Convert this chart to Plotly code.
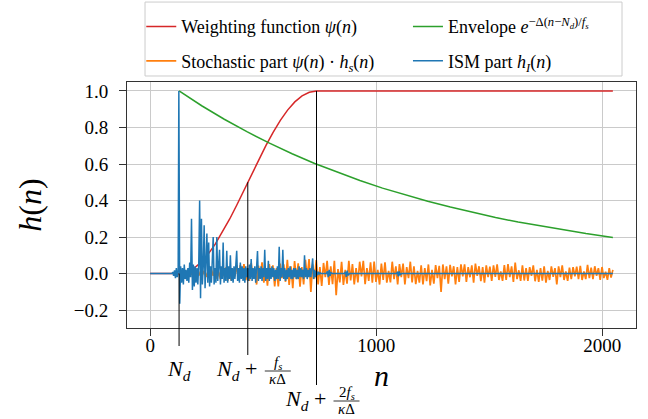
import numpy as np
import plotly.graph_objects as go

FONT = "Liberation Serif, Times New Roman, serif"

# weighting function psi(n)
psi_n = [0, 128, 160, 192, 224, 256, 288, 320, 352, 384, 416, 448, 480, 512,
         544, 576, 608, 640, 672, 704, 736, 2047]
psi_val = [0, 0, 0.007, 0.027, 0.06, 0.105, 0.161, 0.227, 0.299, 0.377, 0.459,
           0.541, 0.623, 0.701, 0.773, 0.839, 0.895, 0.94, 0.973, 0.993, 1.0, 1.0]

# envelope exp(-Delta (n - Nd) / fs)
env_n = [128, 228, 328, 428, 528, 628, 728, 828, 928, 1028, 1128, 1228, 1328,
         1428, 1528, 1628, 1728, 1828, 1928, 2047]
env_val = [1.0, 0.919, 0.845, 0.777, 0.714, 0.656, 0.603, 0.555, 0.51, 0.468,
           0.43, 0.396, 0.364, 0.334, 0.307, 0.282, 0.26, 0.239, 0.219, 0.198]

# stochastic part psi(n) * hs(n), one value every 8 samples from n = 127
stoch_n = list(range(127, 2048, 8))
stoch_val = [
    0, -0.001, 0.002, -0.004, 0.002, -0.005, 0.006, -0.004, 0.008, -0.01, 0.005, -0.012,
    0.012, -0.007, 0.015, -0.018, 0.008, -0.02, 0.022, -0.012, 0.025, -0.028, 0.01, -0.03,
    0.022, -0.015, 0.034, -0.04, 0.018, -0.038, 0.026, -0.015, 0.045, -0.03, 0.046, -0.022,
    0.052, -0.036, 0.02, -0.04, 0.058, -0.028, 0.025, -0.06, 0.044, -0.02, 0.062, -0.05,
    0.03, -0.066, 0.052, -0.015, 0.045, -0.07, 0.03, -0.07, 0.055, -0.025, 0.05, -0.045,
    0.075, -0.062, 0.04, -0.08, 0.068, -0.03, 0.056, -0.072, 0.035, -0.06, 0.075, -0.02,
    0.08, -0.1, 0.05, -0.028, 0.074, -0.06, 0.035, -0.068, 0.058, -0.02, 0.07, -0.062,
    0.04, -0.058, 0.07, -0.118, 0.025, -0.048, 0.065, -0.062, 0.02, -0.055, 0.07, -0.038,
    0.052, -0.06, 0.03, -0.048, 0.065, -0.015, 0.07, -0.058, 0.03, -0.04, 0.062, -0.05,
    0.066, -0.045, 0.02, -0.06, 0.055, -0.035, 0.062, -0.05, 0.015, -0.048, 0.065, -0.03,
    0.04, -0.06, 0.052, -0.02, 0.055, -0.06, 0.035, -0.025, 0.065, -0.048, 0.04, -0.058,
    0.015, -0.05, 0.045, -0.06, 0.03, -0.042, 0.05, -0.065, 0.02, -0.055, 0.046, -0.025,
    0.042, -0.1, 0.05, -0.03, 0.04, -0.055, 0.048, -0.015, 0.04, -0.06, 0.035, -0.045,
    0.05, -0.015, 0.05, -0.045, 0.035, -0.02, 0.045, -0.05, 0.055, -0.012, 0.04, -0.042,
    0.035, -0.05, 0.045, -0.02, 0.038, -0.04, 0.045, -0.018, 0.05, -0.035, 0.012, -0.04,
    0.046, -0.035, 0.052, -0.02, 0.04, -0.045, 0.06, -0.03, 0.018, -0.04, 0.045, -0.038,
    0.03, -0.04, 0.035, -0.012, 0.045, -0.042, 0.02, -0.045, 0.03, -0.038, 0.04, -0.05,
    0.015, -0.035, 0.04, -0.018, 0.03, -0.06, 0.04, -0.02, 0.045, -0.035, 0.012, -0.04,
    0.032, -0.03, 0.035, -0.015, 0.038, -0.03, 0.042, -0.035, 0.012, -0.03, 0.048, -0.025,
    0.032, -0.03, 0.04, -0.012, 0.03, -0.035, 0.036, -0.025, 0.01, -0.034, 0.03, -0.022,
    0.02,
]

# ISM part hI(n): before Nd, every 4 samples from Nd, then late small reflections
ism_pre_n = [0, 95, 100, 104, 108, 112, 116, 120, 124]
ism_pre_val = [0, 0, 0.005, -0.012, 0.018, -0.025, 0.03, -0.02, 0.01]
ism_mid_n = list(range(127, 760, 4))
ism_mid_val = [
    1.0, -0.165, 0.04, -0.05, 0.03, -0.06, 0.05, -0.03, 0.02, -0.04,
    0.03, -0.05, 0.06, -0.02, 0.30, -0.09, 0.05, -0.07, 0.04, -0.05,
    0.03, -0.06, 0.05, 0.40, -0.135, 0.30, -0.06, 0.04, 0.265, -0.08,
    0.05, 0.22, -0.05, 0.17, -0.07, 0.04, -0.05, 0.06, 0.20, -0.06,
    0.03, -0.05, 0.20, -0.04, 0.05, 0.13, -0.06, 0.04, -0.03, 0.17,
    -0.05, 0.03, -0.04, 0.125, -0.05, 0.04, -0.03, 0.10, -0.04, 0.03,
    -0.05, 0.04, -0.03, 0.05, 0.125, -0.04, 0.03, -0.05, 0.06, -0.03,
    0.04, -0.04, 0.03, -0.05, 0.04, -0.02, 0.03, -0.04, 0.05, -0.03,
    0.08, -0.04, 0.03, -0.03, 0.04, -0.05, 0.03, 0.123, -0.04, 0.03,
    -0.03, 0.04, -0.04, 0.03, -0.02, 0.13, -0.04, 0.03, -0.03, 0.07,
    -0.04, 0.03, -0.03, 0.04, -0.02, 0.03, -0.04, 0.02, -0.03, 0.04,
    -0.03, 0.147, -0.04, 0.03, -0.02, 0.13, -0.03, 0.03, -0.04, 0.02,
    -0.03, 0.03, -0.02, 0.04, -0.03, 0.02, -0.03, 0.03, -0.02, 0.03,
    -0.03, 0.02, -0.03, 0.04, -0.02, 0.03, -0.02, 0.02, -0.03, 0.10,
    -0.02, 0.03, -0.03, 0.02, -0.02, 0.03, -0.02, 0.02, 0.083, -0.03,
    0.02, -0.02, 0.015, -0.01, 0.01, -0.005, 0.005, 0, 0,
]
ism_post_n = [780, 784, 788, 792, 796, 800, 806, 860, 864, 868, 872, 876, 882,
              1090, 1094, 1098, 1102, 1106, 1112, 2047]
ism_post_val = [0, 0.012, -0.02, 0.02, -0.012, 0.005, 0, 0, 0.01, -0.018, 0.016,
                -0.01, 0, 0, 0.01, -0.015, 0.012, -0.006, 0, 0]

# marked positions: Nd, Nd + fs/(kappa Delta), Nd + 2 fs/(kappa Delta)
mark_n = [128, 432, 736]
mark_top = [0.0, 0.5, 1.0]

ism_n = ism_pre_n + ism_mid_n + ism_post_n
ism_val = ism_pre_val + ism_mid_val + ism_post_val

fig = go.Figure()
fig.add_trace(go.Scatter(x=psi_n, y=psi_val, mode="lines",
                         line=dict(color="#d62728", width=1.5),
                         name="Weighting function <i>ψ</i>(<i>n</i>)",
                         legend="legend", legendgroup="a"))
fig.add_trace(go.Scatter(x=stoch_n, y=stoch_val, mode="lines",
                         line=dict(color="#ff7f0e", width=1.7),
                         name="Stochastic part <i>ψ</i>(<i>n</i>) · <i>h<sub>s</sub></i>(<i>n</i>)",
                         legend="legend", legendgroup="b"))
fig.add_trace(go.Scatter(x=env_n, y=env_val, mode="lines",
                         line=dict(color="#2ca02c", width=1.5),
                         name="Envelope <i>e</i><sup>−Δ(<i>n</i>−<i>N<sub>d</sub></i>)/<i>f<sub>s</sub></i></sup>",
                         legend="legend2", legendgroup="c"))
fig.add_trace(go.Scatter(x=ism_n, y=ism_val, mode="lines",
                         line=dict(color="#1f77b4", width=1.5),
                         name="ISM part <i>h<sub>I</sub></i>(<i>n</i>)",
                         legend="legend2", legendgroup="d"))

ymin, ymax = -0.298, 1.049
below = [-18, -27, -57]
for n, top, dy in zip(mark_n, mark_top, below):
    fig.add_shape(type="line", xref="x", yref="y", x0=n, x1=n, y0=ymin, y1=top,
                  line=dict(color="black", width=1))
    fig.add_shape(type="line", xref="x", yref="paper", x0=n, x1=n,
                  ysizemode="pixel", yanchor=0, y0=dy, y1=0,
                  line=dict(color="black", width=1))

# labels under the marked positions
def note(x, text, xshift, yshift, size, xanchor="center"):
    fig.add_annotation(x=x, xref="x", y=0, yref="paper", text=text,
                       showarrow=False, xanchor=xanchor, yanchor="middle",
                       xshift=xshift, yshift=yshift, borderpad=0,
                       font=dict(family=FONT, size=size, color="black"))

nd = "<i>N<sub>d</sub></i>"
note(mark_n[0], nd, 0, -42, 22)
for n, num, dy in [(mark_n[1], "<i>f<sub>s</sub></i>", -42),
                   (mark_n[2], "2<i>f<sub>s</sub></i>", -72)]:
    note(n, nd + " +", 10, dy, 22, "right")
    note(n, num, 30, dy + 7, 15)
    note(n, "<i>κ</i>Δ", 30, dy - 9, 15)
    fig.add_shape(type="line", xref="x", yref="paper", xsizemode="pixel",
                  xanchor=n, x0=17, x1=43, ysizemode="pixel", yanchor=0,
                  y0=dy - 1, y1=dy - 1, line=dict(color="black", width=0.8))

# legend frame
fig.add_shape(type="rect", xref="paper", yref="paper", layer="below",
              x0=0.0354, x1=0.9725, y0=1.0244, y1=1.325,
              line=dict(color="#cccccc", width=1), fillcolor="white")

axis_common = dict(showgrid=True, gridcolor="#cacaca", gridwidth=1,
                   showline=True, linecolor="#333333", linewidth=1, mirror=True,
                   ticks="outside", ticklen=7, tickcolor="#333333", zeroline=False,
                   automargin=False,
                   tickfont=dict(family=FONT, size=19, color="black"))

fig.update_layout(
    width=648, height=419,
    margin=dict(l=127, r=12, t=82, b=91, autoexpand=False),
    plot_bgcolor="white", paper_bgcolor="white",
    font=dict(family=FONT, color="black"),
    showlegend=True,
    legend=dict(x=0.028, y=1.30, xanchor="left", yanchor="top",
                bgcolor="rgba(0,0,0,0)", tracegroupgap=8,
                font=dict(family=FONT, size=18)),
    legend2=dict(x=0.552, y=1.30, xanchor="left", yanchor="top",
                 bgcolor="rgba(0,0,0,0)", tracegroupgap=8,
                 font=dict(family=FONT, size=18)),
    xaxis=dict(range=[-102.35, 2149.35], tickvals=[0, 1000, 2000],
               ticklabelstandoff=-7,
               title=dict(text="<i>n</i>", font=dict(family=FONT, size=30),
                          standoff=10),
               **axis_common),
    yaxis=dict(range=[ymin, ymax], tickvals=[-0.2, 0, 0.2, 0.4, 0.6, 0.8, 1.0],
               tickformat=".1f", ticklabelstandoff=7,
               title=dict(text="<i>h</i>(<i>n</i>)", font=dict(family=FONT, size=32),
                          standoff=22),
               **axis_common),
)

fig.write_html("out.html", config={"displayModeBar": False},
               post_script="document.body.style.margin = '0';")
